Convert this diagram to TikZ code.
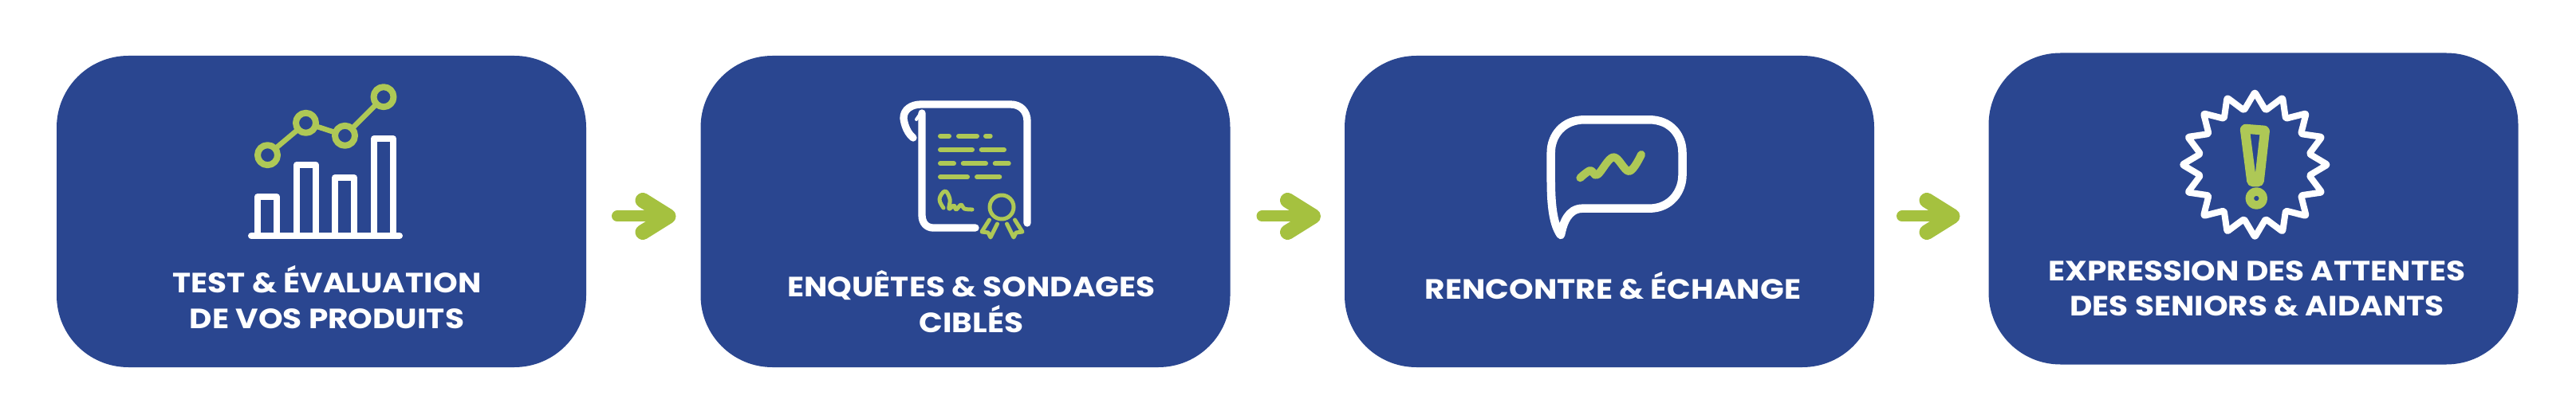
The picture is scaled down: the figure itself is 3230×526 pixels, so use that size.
\documentclass[tikz,border=0pt]{standalone}
\usepackage{fontspec}
\setmainfont{Poppins}[BoldFont={Poppins Bold}, BoldFeatures={FakeStretch=1.115}]
\usetikzlibrary{positioning, arrows.meta}
\definecolor{brand_blue}	{RGB}{42,70,144}
\definecolor{icon_green}	{RGB}{174,200,86}
\definecolor{arrow_green}	{RGB}{165,193,63}

\begin{document}
\begin{tikzpicture}[x = 1pt, y = -1pt,
		node distance  = 143.5pt,
		blockB/.style  = {fill = brand_blue,
			rectangle,
			rounded corners = 90pt,
			inner sep       = 0,
			outer sep       = 0,
			minimum width   = 664pt,
			minimum height  = 391pt},
		caption/.style = {text = white,
			align         = center,
			inner sep     = 0,
			font          = \fontsize{35pt}{44.5pt}\selectfont\bfseries},
		flowA/.style   = {draw = arrow_green,
			line width = 14pt,
			line cap   = round,
			-{Straight Barb[round, length = 32pt, width = 40pt, line width = 19pt]}},
		iconW/.style   = {draw = white,
			line cap  = round,
			line join = round,
			line width = 8pt},
		iconG/.style   = {draw = icon_green,
			line cap  = round,
			line join = round,
			line width = 6.5pt}]
		
		\useasboundingbox (0,0) rectangle (3230,526);
		
		\node[blockB] (Test) at (403,265.5) {};
		\node[blockB] (Enq) [right=of Test] {};
		\node[blockB] (Renc) [right=of Enq] {};
		\node[blockB] (Expr) [right=of Renc, yshift=3.5pt] {};
		
		\node[caption] (TestL) at (410,373) {TEST \& ÉVALUATION \\ DE VOS PRODUITS};
		\node[caption] (EnqL) at (1218,378.5) {ENQUÊTES \& SONDAGES \\ CIBLÉS};
		\node[caption] (RencL) at (2022.5,358.5) {RENCONTRE \& ÉCHANGE};
		\node[caption] (ExprL) at (2830,362) {EXPRESSION DES ATTENTES \\ DES SENIORS \& AIDANTS};
		
		\draw[flowA, shorten <=39pt, shorten >=31pt] ([yshift=-6pt]Test.east) -- ([yshift=-6pt]Enq.west);
		\draw[flowA, shorten <=40pt, shorten >=30pt] ([yshift=-6pt]Enq.east) -- ([yshift=-6pt]Renc.west);
		\draw[flowA, shorten <=35pt, shorten >=36pt] ([yshift=-6pt]Renc.east) -- ([yshift=-9.5pt]Expr.west);
		
		% chart icon
		\draw[iconW] (315,296) -- (501,296);
		\draw[iconW] (323,296) |- (347,247) -- (347,296);
		\draw[iconW] (372,296) |- (396,207) -- (396,296);
		\draw[iconW] (420,296) |- (444,223) -- (444,296);
		\draw[iconW] (469,296) |- (493,174) -- (493,296);
		\draw[iconG] (335.5,194.7) -- (383.5,154.3) -- (432.5,170.3) -- (481,121.7);
		\foreach \cx/\cy in {335.5/194.7, 383.5/154.3, 432.5/170.3, 481/121.7}
			\draw[iconG, line width=8pt, fill=brand_blue] (\cx,\cy) circle (12.5);
		
		% scroll icon
		\draw[iconW, line width=9.3pt] (1145,173) .. controls (1135,165) and (1133,150) .. (1133,148)
			.. controls (1133,138) and (1142,131) .. (1155,131) -- (1267,131)
			.. controls (1280,131) and (1288,140) .. (1288,152) -- (1288,280);
		\draw[iconW, line width=9.3pt] (1156,142) -- (1156,270)
			.. controls (1156,280) and (1162,286) .. (1170,286) -- (1223,286);
		\draw[iconW, line width=4pt] (1156,140) -- (1149,150);
		\foreach \xa/\xb/\yy in {1179/1190/170.7, 1202/1225/170.7, 1236/1241.7/170.7,
				1179/1219/188, 1230.7/1259/188,
				1179/1196/205.3, 1207.7/1236/205.3, 1247.7/1264.7/205.3,
				1179/1213/222.3, 1225/1253.3/222.3}
			\draw[iconG, line width=6pt] (\xa,\yy) -- (\xb,\yy);
		\draw[iconG, line width=5pt] plot[smooth, tension=0.7] coordinates {(1183,261) (1178,250) (1185,240)
			(1191,250) (1190,262) (1196,258) (1199,263) (1205,257) (1209,262) (1219,263)};
		\draw[iconG, line width=5pt] (1256,260) circle (15);
		\draw[iconG, line width=5pt] (1240.5,276) -- (1231,291) -- (1239,292) -- (1242,298) -- (1250.5,281);
		\draw[iconG, line width=5pt] (1262.5,281) -- (1271,298) -- (1274,292) -- (1282,291) -- (1272.5,276);
		
		% speech bubble icon
		\draw[iconW, line width=10.5pt] (1957,295)
			.. controls (1960,280) and (1966,262) .. (1984,261.7) -- (2068,261.7)
			.. controls (2095,261.7) and (2109.5,240) .. (2109.5,220) -- (2109.5,191.7)
			.. controls (2109.5,170) and (2095,150.3) .. (2068,150.3) -- (1986.5,150.3)
			.. controls (1960,150.3) and (1944.7,170) .. (1944.7,191.7) -- (1944.7,223)
			.. controls (1944.7,250) and (1946,280) .. (1957,295);
		\draw[iconG, line width=10pt] plot[smooth, tension=0.6] coordinates {(1981.4,223.3) (1994,214) (2003,219.3)
			(2023,197.3) (2042.7,215) (2058,194)};
		
		% alert icon
		\draw[iconW, line width=8pt, rounded corners=2pt] (2827.3,115.7)
			\foreach \ang in {1,...,31} {-- ({2827.3+(iseven(\ang) ? 91 : 69.5)*sin(\ang*11.25)},{206.7-(iseven(\ang) ? 91 : 69.5)*cos(\ang*11.25)})} -- cycle;
		\draw[iconG, line width=12pt, rounded corners=1pt] (2814.7,161.7) -- (2840,163.7) -- (2832.7,228.3) -- (2823.3,228.3) -- cycle;
		\draw[iconG, line width=10.5pt] (2829.3,249) circle (8.5);
		
	\end{tikzpicture}
\end{document}
